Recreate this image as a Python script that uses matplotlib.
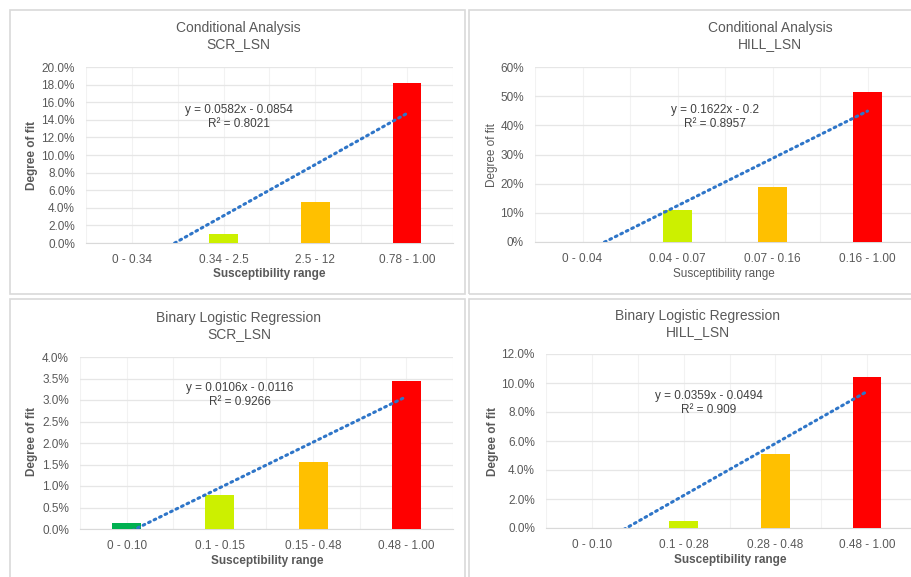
import numpy as np
import matplotlib
matplotlib.use("Agg")
import matplotlib.pyplot as plt
from matplotlib.patches import Rectangle
from matplotlib.ticker import FuncFormatter

plt.rcParams["font.family"] = ["Liberation Sans", "DejaVu Sans"]

W, H = 912, 577

# degree of fit per susceptibility class (fractions)
ca_scr_ranges = ["0 - 0.34", "0.34 - 2.5", "2.5 - 12", "0.78 - 1.00"]
ca_scr_fit = [0.0, 0.010, 0.047, 0.182]
ca_scr_trend = (0.0582, -0.0854, "0.8021")

ca_hill_ranges = ["0 - 0.04", "0.04 - 0.07", "0.07 - 0.16", "0.16 - 1.00"]
ca_hill_fit = [0.0, 0.11, 0.19, 0.515]
ca_hill_trend = (0.1622, -0.2, "0.8957")

blr_scr_ranges = ["0 - 0.10", "0.1 - 0.15", "0.15 - 0.48", "0.48 - 1.00"]
blr_scr_fit = [0.0015, 0.0080, 0.0155, 0.0345]
blr_scr_trend = (0.0106, -0.0116, "0.9266")

blr_hill_ranges = ["0 - 0.10", "0.1 - 0.28", "0.28 - 0.48", "0.48 - 1.00"]
blr_hill_fit = [0.0, 0.005, 0.051, 0.104]
blr_hill_trend = (0.0359, -0.0494, "0.909")

bar_colors = ["#00B050", "#CCF000", "#FFC000", "#FF0000"]
text_col = "#595959"


def fx(px):
    return px / W


def fy(py):
    return 1 - py / H


fig = plt.figure(figsize=(W / 100, H / 100), dpi=100)

# chart frames
for x0, y0, x1, y1 in [(10, 10, 465, 294), (469, 10, 930, 294),
                       (10, 299, 465, 590), (469, 299, 930, 590)]:
    fig.add_artist(Rectangle((fx(x0), fy(y1)), fx(x1 - x0), (y1 - y0) / H,
                             transform=fig.transFigure, fill=False,
                             edgecolor="#D9D9D9", linewidth=1.2))


def panel(box, ranges, fit, trend, ymax, ystep, decimals, title, title_xy,
          eq_xy, ylab_xy, xlab_xy, bold=True):
    left, top, right, bottom = box
    ax = fig.add_axes([fx(left), fy(bottom), fx(right - left), (bottom - top) / H])
    x = np.arange(len(fit))
    ax.bar(x, fit, width=0.31, color=bar_colors, zorder=3)

    slope, icpt, r2 = trend
    xs = np.array([1, 4])
    ax.plot(xs - 1, slope * xs + icpt, color="#2E75C8", linewidth=2.2,
            linestyle=(0, (0.6, 1.4)), dash_capstyle="round", zorder=4)

    ax.set_xlim(-0.5, 3.5)
    ax.set_ylim(0, ymax)
    ax.set_yticks(np.arange(0, ymax + ystep / 2, ystep))
    ax.yaxis.set_major_formatter(FuncFormatter(lambda v, p: f"{v * 100:.{decimals}f}%"))
    ax.set_xticks(x)
    ax.set_xticklabels(ranges)
    ax.tick_params(length=0, labelsize=8.5, labelcolor=text_col)
    ax.tick_params(axis="x", pad=8)
    ax.tick_params(axis="y", pad=8)

    ax.grid(axis="y", color="#E6E6E6", linewidth=0.9, zorder=0)
    for gx in np.arange(-0.5, 3.6, 0.5):
        ax.axvline(gx, color="#F2F2F2", linewidth=0.8, zorder=0)
    for s in ["top", "right", "left"]:
        ax.spines[s].set_visible(False)
    ax.spines["bottom"].set_color("#D9D9D9")

    fig.text(fx(title_xy[0]), fy(title_xy[1]), title, ha="center", va="center",
             fontsize=10, color=text_col, linespacing=1.25)
    sign = "-" if icpt < 0 else "+"
    eq = f"y = {slope:g}x {sign} {abs(icpt):g}\nR² = {r2}"
    fig.text(fx(eq_xy[0]), fy(eq_xy[1]), eq, ha="center", va="center",
             fontsize=8.5, color="#404040", linespacing=1.15)
    weight = "bold" if bold else "normal"
    fig.text(fx(ylab_xy[0]), fy(ylab_xy[1]), "Degree of fit", rotation=90,
             ha="center", va="center", fontsize=8.5, color=text_col,
             fontweight=weight)
    fig.text(fx(xlab_xy[0]), fy(xlab_xy[1]), "Susceptibility range",
             ha="center", va="center", fontsize=8.5, color=text_col,
             fontweight=weight)
    return ax


panel((86, 67, 453, 243), ca_scr_ranges, ca_scr_fit, ca_scr_trend, 0.20, 0.02, 1,
      "Conditional Analysis\nSCR_LSN", (238, 36), (239, 117), (32, 155), (269, 274))
panel((535, 67, 915, 242), ca_hill_ranges, ca_hill_fit, ca_hill_trend, 0.60, 0.10, 0,
      "Conditional Analysis\nHILL_LSN", (770, 36), (715, 117), (492, 155), (724, 274),
      bold=False)
panel((80, 357, 453, 529), blr_scr_ranges, blr_scr_fit, blr_scr_trend, 0.040, 0.005, 1,
      "Binary Logistic Regression\nSCR_LSN", (239, 326), (240, 395), (32, 442), (267, 561))
panel((546, 354, 913, 528), blr_hill_ranges, blr_hill_fit, blr_hill_trend, 0.12, 0.02, 1,
      "Binary Logistic Regression\nHILL_LSN", (698, 324), (709, 403), (493, 442), (730, 560))

fig.savefig("out.png", dpi=100)
